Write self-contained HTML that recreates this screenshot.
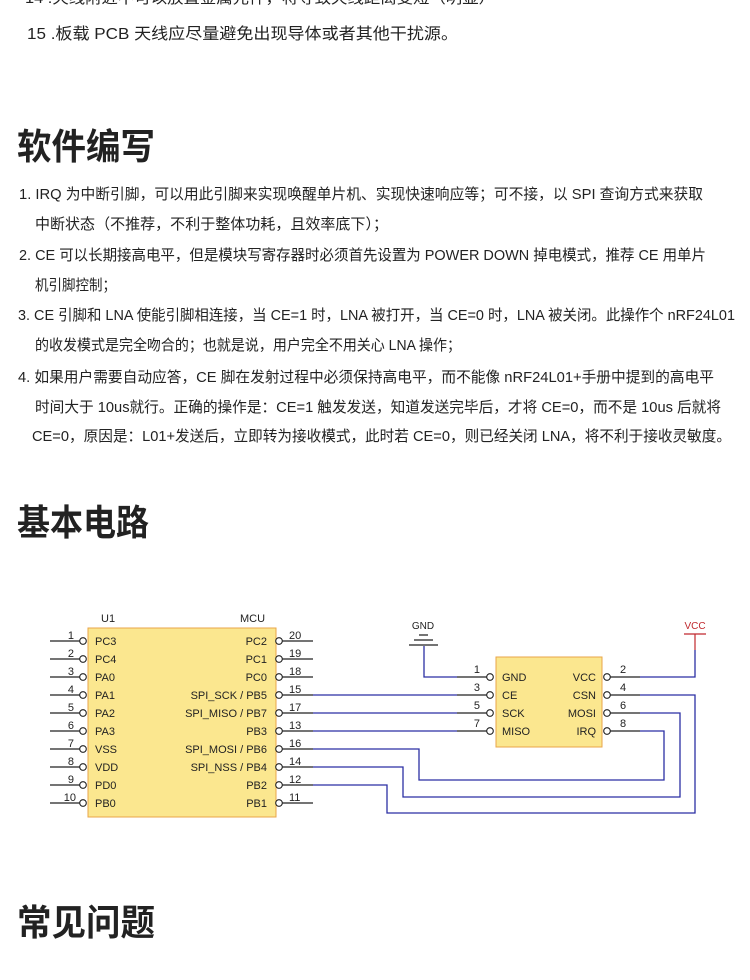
<!DOCTYPE html>
<html><head><meta charset="utf-8"><style>
html,body{margin:0;padding:0;background:#fff;width:750px;height:980px;overflow:hidden}
svg{display:block}
.t{font-family:"Liberation Sans","Noto Sans CJK SC",sans-serif;fill:#222}
.s{font-family:"Liberation Sans","Noto Sans CJK SC",sans-serif;font-size:11px;fill:#222}
</style></head><body>
<svg width="750" height="980" viewBox="0 0 750 980" xmlns="http://www.w3.org/2000/svg">
<g class="t" font-size="15">
<text x="25" y="3" textLength="470" lengthAdjust="spacingAndGlyphs">14 .天线附近不可以放置金属元件，将导致天线距离变短（明显）</text>
<text x="27" y="39" font-size="16" textLength="431" lengthAdjust="spacingAndGlyphs">15 .板载 PCB 天线应尽量避免出现导体或者其他干扰源。</text>
<text x="17" y="159" font-size="36" textLength="138" lengthAdjust="spacingAndGlyphs" font-weight="bold">软件编写</text>
<text x="19" y="199" textLength="684" lengthAdjust="spacingAndGlyphs">1. IRQ 为中断引脚，可以用此引脚来实现唤醒单片机、实现快速响应等；可不接，以 SPI 查询方式来获取</text>
<text x="35" y="229" textLength="353" lengthAdjust="spacingAndGlyphs">中断状态（不推荐，不利于整体功耗，且效率底下）；</text>
<text x="19" y="260" textLength="687" lengthAdjust="spacingAndGlyphs">2. CE 可以长期接高电平，但是模块写寄存器时必须首先设置为 POWER DOWN 掉电模式，推荐 CE 用单片</text>
<text x="35" y="290" textLength="81" lengthAdjust="spacingAndGlyphs">机引脚控制；</text>
<text x="18" y="320" textLength="717" lengthAdjust="spacingAndGlyphs">3. CE 引脚和 LNA 使能引脚相连接，当 CE=1 时，LNA 被打开，当 CE=0 时，LNA 被关闭。此操作个 nRF24L01</text>
<text x="35" y="350" textLength="426" lengthAdjust="spacingAndGlyphs">的收发模式是完全吻合的；也就是说，用户完全不用关心 LNA 操作；</text>
<text x="18" y="382" textLength="696" lengthAdjust="spacingAndGlyphs">4. 如果用户需要自动应答，CE 脚在发射过程中必须保持高电平，而不能像 nRF24L01+手册中提到的高电平</text>
<text x="35" y="412" textLength="686" lengthAdjust="spacingAndGlyphs">时间大于 10us就行。正确的操作是：CE=1 触发发送，知道发送完毕后，才将 CE=0，而不是 10us 后就将</text>
<text x="32" y="441" textLength="699" lengthAdjust="spacingAndGlyphs">CE=0，原因是：L01+发送后，立即转为接收模式，此时若 CE=0，则已经关闭 LNA，将不利于接收灵敏度。</text>
<text x="17" y="535" font-size="36" textLength="132" lengthAdjust="spacingAndGlyphs" font-weight="bold">基本电路</text>
<text x="17" y="935" font-size="36" textLength="138" lengthAdjust="spacingAndGlyphs" font-weight="bold">常见问题</text>
</g>

<!-- MCU -->
<rect x="88" y="628" width="188" height="189" fill="#fbe78f" stroke="#e8a64a" stroke-width="1"/>
<text class="s" x="101" y="622">U1</text>
<text class="s" x="240" y="622">MCU</text>
<g stroke="#222" stroke-width="1.2" fill="none">
<path d="M50 641H80M50 659H80M50 677H80M50 695H80M50 713H80M50 731H80M50 749H80M50 767H80M50 785H80M50 803H80"/>
<path d="M282 641H313M282 659H313M282 677H313M282 695H313M282 713H313M282 731H313M282 749H313M282 767H313M282 785H313M282 803H313"/>
</g>
<g fill="#fff" stroke="#222" stroke-width="1.1">
<circle cx="83" cy="641" r="3.3"/><circle cx="83" cy="659" r="3.3"/><circle cx="83" cy="677" r="3.3"/><circle cx="83" cy="695" r="3.3"/><circle cx="83" cy="713" r="3.3"/><circle cx="83" cy="731" r="3.3"/><circle cx="83" cy="749" r="3.3"/><circle cx="83" cy="767" r="3.3"/><circle cx="83" cy="785" r="3.3"/><circle cx="83" cy="803" r="3.3"/>
<circle cx="279" cy="641" r="3.3"/><circle cx="279" cy="659" r="3.3"/><circle cx="279" cy="677" r="3.3"/><circle cx="279" cy="695" r="3.3"/><circle cx="279" cy="713" r="3.3"/><circle cx="279" cy="731" r="3.3"/><circle cx="279" cy="749" r="3.3"/><circle cx="279" cy="767" r="3.3"/><circle cx="279" cy="785" r="3.3"/><circle cx="279" cy="803" r="3.3"/>
</g>
<g class="s">
<text x="95" y="645">PC3</text><text x="95" y="663">PC4</text><text x="95" y="681">PA0</text><text x="95" y="699">PA1</text><text x="95" y="717">PA2</text><text x="95" y="735">PA3</text><text x="95" y="753">VSS</text><text x="95" y="771">VDD</text><text x="95" y="789">PD0</text><text x="95" y="807">PB0</text>
<g text-anchor="end">
<text x="267" y="645">PC2</text><text x="267" y="663">PC1</text><text x="267" y="681">PC0</text><text x="267" y="699">SPI_SCK / PB5</text><text x="267" y="717">SPI_MISO / PB7</text><text x="267" y="735">PB3</text><text x="267" y="753">SPI_MOSI / PB6</text><text x="267" y="771">SPI_NSS / PB4</text><text x="267" y="789">PB2</text><text x="267" y="807">PB1</text>
<text x="74" y="639">1</text><text x="74" y="657">2</text><text x="74" y="675">3</text><text x="74" y="693">4</text><text x="74" y="711">5</text><text x="74" y="729">6</text><text x="74" y="747">7</text><text x="74" y="765">8</text><text x="74" y="783">9</text><text x="76" y="801">10</text>
</g>
<text x="289" y="639">20</text><text x="289" y="657">19</text><text x="289" y="675">18</text><text x="289" y="693">15</text><text x="289" y="711">17</text><text x="289" y="729">13</text><text x="289" y="747">16</text><text x="289" y="765">14</text><text x="289" y="783">12</text><text x="289" y="801">11</text>
</g>

<!-- Module -->
<rect x="496" y="657" width="106" height="90" fill="#fbe78f" stroke="#e8a64a" stroke-width="1"/>
<g stroke="#222" stroke-width="1.2" fill="none">
<path d="M457 677H487M457 695H487M457 713H487M457 731H487M610 677H640M610 695H640M610 713H640M610 731H640"/>
</g>
<g fill="#fff" stroke="#222" stroke-width="1.1">
<circle cx="490" cy="677" r="3.3"/><circle cx="490" cy="695" r="3.3"/><circle cx="490" cy="713" r="3.3"/><circle cx="490" cy="731" r="3.3"/>
<circle cx="607" cy="677" r="3.3"/><circle cx="607" cy="695" r="3.3"/><circle cx="607" cy="713" r="3.3"/><circle cx="607" cy="731" r="3.3"/>
</g>
<g class="s">
<text x="502" y="681">GND</text><text x="502" y="699">CE</text><text x="502" y="717">SCK</text><text x="502" y="735">MISO</text>
<g text-anchor="end"><text x="596" y="681">VCC</text><text x="596" y="699">CSN</text><text x="596" y="717">MOSI</text><text x="596" y="735">IRQ</text>
<text x="480" y="673">1</text><text x="480" y="691">3</text><text x="480" y="709">5</text><text x="480" y="727">7</text></g>
<text x="620" y="673">2</text><text x="620" y="691">4</text><text x="620" y="709">6</text><text x="620" y="727">8</text>
<text x="423" y="629" text-anchor="middle" font-size="10">GND</text>
<text x="695" y="629" text-anchor="middle" font-size="10" fill="#c0282d">VCC</text>
</g>
<g stroke="#222" stroke-width="1.2"><path d="M419 635H428M414 640H433M409 645H438"/></g>
<g stroke="#c0282d" stroke-width="1.2" fill="none"><path d="M684 634H706M695 634V650"/></g>

<!-- wires -->
<g stroke="#2b2fa3" stroke-width="1.3" fill="none">
<path d="M424 646V677H457"/>
<path d="M695 650V677H640"/>
<path d="M313 695H457"/>
<path d="M313 713H457"/>
<path d="M313 731H457"/>
<path d="M313 749H419V780H664V731H640"/>
<path d="M313 767H403V797H680V713H640"/>
<path d="M313 785H387V813H695V695H640"/>
</g>
</svg>
</body></html>
